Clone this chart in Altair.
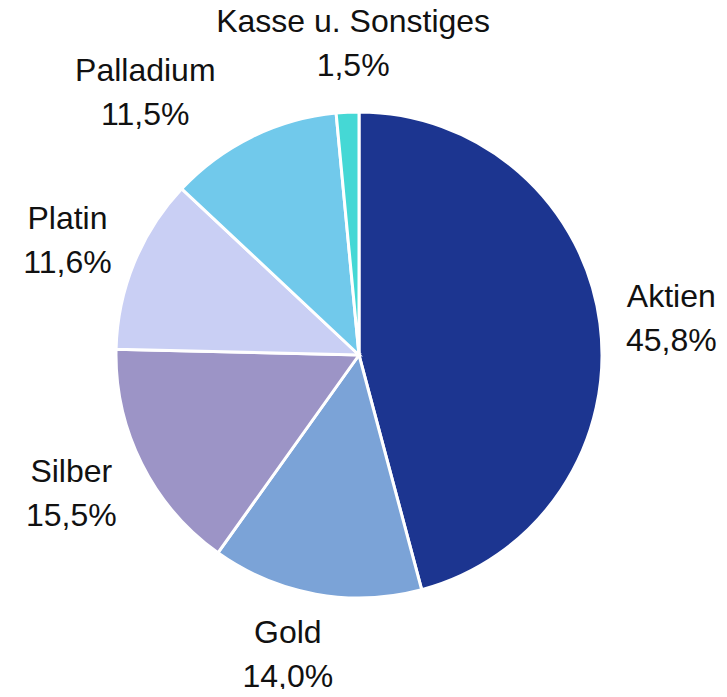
import altair as alt
import pandas as pd

categories = ["Aktien", "Gold", "Silber", "Platin", "Palladium", "Kasse u. Sonstiges"]
values = [45.8, 14.0, 15.5, 11.6, 11.5, 1.5]
labels = ["45,8%", "14,0%", "15,5%", "11,6%", "11,5%", "1,5%"]
colors = ["#1c3590", "#7ba3d7", "#9c94c6", "#c9cff4", "#71c9eb", "#45d8d5"]

df = pd.DataFrame({
    "cat": categories,
    "val": values,
    "lab": [c + "\n" + l for c, l in zip(categories, labels)],
    "order": list(range(len(categories))),
})

total = sum(values)
CX, CY = 351, 347
R = 243
LR = 315

theta_scale = alt.Scale(domain=[0, total], range=[0, 6.283185307179586])

base = alt.Chart(df).transform_stack(
    stack="val", groupby=[], as_=["v0", "v1"], sort=[alt.SortField("order", order="ascending")]
).transform_calculate(
    mid="(datum.v0 + datum.v1) / 2"
).encode(
    x=alt.value(CX),
    y=alt.value(CY),
)

arcs = base.mark_arc(outerRadius=R, stroke="white", strokeWidth=3).encode(
    theta=alt.Theta("v0:Q", scale=theta_scale),
    theta2="v1:Q",
    color=alt.Color("cat:N", scale=alt.Scale(domain=categories, range=colors), legend=None),
)

text_style = dict(radius=LR, fontSize=32, font="Liberation Sans", color="#111111",
                  lineBreak="\n", lineHeight=44, align="center", baseline="middle")


def label_layer(filt, dx, dy):
    return base.transform_filter(filt).mark_text(dx=dx, dy=dy, **text_style).encode(
        theta=alt.Theta("mid:Q", scale=theta_scale),
        text="lab:N",
    )


special = ["Palladium", "Gold", "Silber", "Kasse u. Sonstiges"]
texts = label_layer(~alt.FieldOneOfPredicate(field="cat", oneOf=special), 0, -17)
texts_pd = label_layer(alt.datum.cat == "Palladium", -75, -1)
texts_gold = label_layer(alt.datum.cat == "Gold", -15, -32)
texts_silber = label_layer(alt.datum.cat == "Silber", -6, -24)
texts_kasse = label_layer(alt.datum.cat == "Kasse u. Sonstiges", 9, -18)

chart = alt.layer(arcs, texts, texts_pd, texts_gold, texts_silber, texts_kasse).properties(
    width=711, height=681, padding=0,
    autosize=alt.AutoSizeParams(type="none"),
).configure_view(stroke=None)

chart.save("out.html", embed_options={"renderer": "svg", "actions": False})
